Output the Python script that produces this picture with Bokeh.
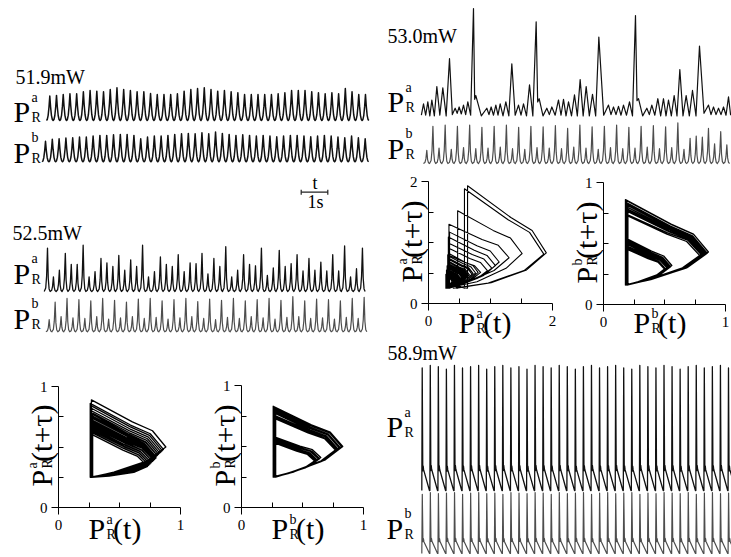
import numpy as np
from bokeh.plotting import figure
from bokeh.models import Range1d, Label, FixedTicker, LinearAxis
from bokeh.layouts import row, column
from bokeh.embed import file_html
from bokeh.resources import INLINE

SERIF = "Liberation Serif"

# ------------------------------------------------------------------ data
PANEL_LABELS = ["51.9mW", "52.5mW", "53.0mW", "58.9mW"]

# 51.9 mW : peak heights (a.u. above trough)
A_A_PEAKS = [0.74, 0.76, 0.79, 0.81, 0.81, 0.87, 0.91, 0.89, 0.87, 0.94, 0.99, 0.94, 0.91, 0.87, 0.87, 0.82,
             0.79, 0.79, 0.79, 0.81, 0.89, 0.94, 0.97, 0.99, 0.94, 0.89, 0.91, 0.87, 0.84, 0.79, 0.79, 0.79,
             0.79, 0.79, 0.81, 0.84, 0.91, 0.91, 0.91, 0.87, 0.84, 0.81, 0.84, 0.81, 0.97, 0.87, 0.79, 0.79]
A_B_PEAKS = [0.62, 0.68, 0.70, 0.72, 0.73, 0.75, 0.75, 0.78, 0.80, 0.80, 0.82, 0.83, 0.83, 0.80, 0.70, 0.75,
             0.78, 0.78, 0.80, 0.83, 0.85, 0.86, 0.85, 0.88, 0.85, 0.90, 0.86, 0.83, 0.80, 0.82, 0.80, 0.78,
             0.80, 0.78, 0.76, 0.78, 0.80, 0.80, 0.78, 0.76, 0.78, 0.80, 0.78, 0.75, 0.73, 0.78, 0.73, 0.70]
A_TROUGH = 0.0
A_A_START, A_A_PERIOD = 1.727, 0.2525
A_B_START, A_B_PERIOD = 1.564, 0.2557

# 52.5 mW
B_A_PEAKS = [0.85, 0.46, 0.55, 0.78, 0.63, 0.63, 0.89, 0.46, 0.53, 0.71, 0.65, 0.60, 0.75, 0.55, 0.69, 0.60,
             0.89, 0.46, 0.53, 0.73, 0.63, 0.60, 0.76, 0.53, 0.65, 0.64, 0.78, 0.50, 0.71, 0.60, 0.87, 0.46,
             0.55, 0.76, 0.63, 0.61, 0.85, 0.48, 0.58, 0.82, 0.60, 0.64, 0.76, 0.54, 0.71, 0.55, 0.66, 0.54,
             0.76, 0.54, 0.88, 0.46, 0.57, 0.85]
B_B_PEAKS = [0.45, 0.74, 0.50, 0.80, 0.48, 0.78, 0.47, 0.76, 0.50, 0.80, 0.46, 0.77, 0.48, 0.74, 0.50, 0.79,
             0.47, 0.80, 0.49, 0.76, 0.46, 0.78, 0.48, 0.80, 0.50, 0.75, 0.47, 0.79, 0.45, 0.77, 0.49, 0.80,
             0.47, 0.76, 0.50, 0.78, 0.48, 0.80, 0.46, 0.77, 0.49, 0.83, 0.50, 0.76, 0.47, 0.79, 0.48, 0.78,
             0.46, 0.76, 0.49, 0.80, 0.47, 0.82]
B_A_TROUGH, B_B_TROUGH = 0.26, 0.25
B_A_START, B_B_START, B_PERIOD = 1.644, 1.708, 0.2234

# 53.0 mW : trace a given as peak times (s), peak values and the trough after each peak
C_A_TIMES = [1.617, 1.779, 1.930, 2.118, 2.343, 2.594, 2.807, 2.957, 3.120, 3.283, 3.496, 3.584, 3.997, 4.160,
             4.336, 4.499, 4.712, 4.937, 5.188, 5.376, 5.602, 5.852, 5.965, 6.253, 6.441, 6.692, 6.880, 7.068,
             7.293, 7.506, 7.732, 7.970, 8.208, 8.571, 8.759, 8.947, 9.135, 9.361, 9.586, 9.699, 10.013,
             10.200, 10.426, 10.639, 10.827, 11.040, 11.253, 11.491, 11.729, 11.992, 12.331, 12.519, 12.707,
             12.895, 13.083]
C_A_PEAKS = [0.45, 0.48, 0.51, 0.72, 0.70, 1.16, 0.38, 0.40, 0.43, 0.48, 1.95, 0.58, 0.38, 0.40, 0.43, 0.45,
             0.48, 1.08, 0.43, 0.45, 0.75, 1.74, 0.53, 0.38, 0.40, 0.51, 0.52, 0.48, 0.59, 0.83, 0.72, 0.60,
             1.50, 0.43, 0.40, 0.41, 0.43, 0.48, 1.84, 0.53, 0.38, 0.43, 0.53, 0.53, 0.51, 0.58, 0.99, 0.58,
             0.66, 1.36, 0.43, 0.40, 0.38, 0.40, 0.56]
C_A_TROUGHS = [0.27, 0.26, 0.26, 0.27, 0.26, 0.28, 0.30, 0.29, 0.28, 0.27, 0.52, 0.26, 0.28, 0.27, 0.27, 0.26,
               0.26, 0.27, 0.27, 0.26, 0.26, 0.48, 0.26, 0.28, 0.27, 0.27, 0.26, 0.26, 0.26, 0.26, 0.26, 0.26,
               0.27, 0.28, 0.28, 0.27, 0.27, 0.26, 0.50, 0.26, 0.28, 0.27, 0.26, 0.26, 0.26, 0.26, 0.26, 0.26,
               0.26, 0.30, 0.28, 0.28, 0.28, 0.27, 0.27]
C_A_FIRST_TROUGH = 0.27
C_B_PEAKS = [0.40, 0.84, 0.44, 0.86, 0.42, 0.84, 0.45, 0.86, 0.43, 0.82, 0.44, 0.84, 0.46, 0.86, 0.43, 0.82,
             0.42, 0.84, 0.45, 0.83, 0.44, 0.85, 0.43, 0.80, 0.46, 0.86, 0.44, 0.83, 0.42, 0.84, 0.45, 0.86,
             0.43, 0.82, 0.44, 0.84, 0.46, 0.85, 0.43, 0.83, 0.45, 0.90, 0.42, 0.62, 0.66, 0.64, 0.80, 0.52,
             0.74, 0.50]
C_B_TROUGH = 0.16
C_B_START, C_B_PERIOD = 1.614, 0.2302

# 58.9 mW
D_A_PEAKS = [0.98, 1.00, 0.99, 0.97, 1.00, 0.98, 0.99, 1.00, 0.97, 0.99, 1.00, 0.98, 0.99, 0.97, 1.00, 0.99,
             0.98, 1.00, 0.99, 0.97, 0.99, 1.00, 0.98, 0.99, 1.00, 0.98, 0.97, 1.00, 0.99, 0.98, 1.00, 0.99,
             0.97, 0.99, 1.00, 0.98, 0.99, 1.00, 0.98]
D_B_PEAKS = [0.97, 1.00, 0.98, 0.99, 1.00, 0.97, 0.99, 1.00, 0.98, 0.99, 0.97, 1.00, 0.99, 0.98, 1.00, 0.99,
             0.97, 1.00, 0.98, 0.99, 1.00, 0.97, 0.99, 1.00, 0.98, 0.99, 1.00, 0.97, 0.99, 0.98, 1.00, 0.99,
             0.98, 1.00, 0.97, 0.99, 1.00, 0.98, 0.99]
D_TROUGH = 0.0
D_START, D_PERIOD = 1.553, 0.303

# pulse profiles (fraction of period, fraction of height)
SHAPE_A_T = [0.0, 0.12, 0.25, 0.38, 0.5, 0.62, 0.75, 0.88]
SHAPE_A_Y = [0.0, 0.04, 0.2, 0.55, 1.0, 0.55, 0.2, 0.04]
SHAPE_B_T = [0.0, 0.25, 0.4, 0.55, 0.68, 0.82]
SHAPE_B_Y = [0.0, 0.08, 0.35, 1.0, 0.3, 0.06]
SHAPE_DA_T = [0.0, 0.05, 0.12, 0.17, 0.22, 0.95]
SHAPE_DA_Y = [0.0, 1.0, 0.16, 0.2, 0.17, 0.0]
SHAPE_DB_T = [0.0, 0.06, 0.14, 0.2, 0.26, 0.95]
SHAPE_DB_Y = [0.0, 1.0, 0.2, 0.25, 0.2, 0.0]

# 1 s scale bar
SCALE_LEN = 1.0

# phase portraits: per loop left-edge x, top, right vertex x / y ; base level
P1_LX = [0.27, 0.28, 0.27, 0.26, 0.28, 0.27, 0.27, 0.28, 0.26, 0.27, 0.28, 0.27, 0.27, 0.26, 0.28, 0.27,
         0.27, 0.28, 0.27, 0.26, 0.27, 0.28, 0.27, 0.27, 0.26, 0.27, 0.28, 0.27, 0.27, 0.26, 0.28, 0.27]
P1_TOP = [0.66, 0.74, 0.62, 0.70, 0.78, 0.64, 0.89, 0.68, 0.72, 0.76, 0.60, 0.84, 0.67, 0.73, 0.65, 0.80,
          0.70, 0.63, 0.75, 0.86, 0.69, 0.77, 0.71, 0.82, 0.66, 0.72, 0.64, 0.74, 0.68, 0.76, 0.62, 0.70]
P1_RX = [0.76, 0.80, 0.74, 0.78, 0.82, 0.75, 0.88, 0.77, 0.79, 0.81, 0.73, 0.85, 0.77, 0.80, 0.76, 0.83,
         0.78, 0.75, 0.80, 0.86, 0.78, 0.81, 0.79, 0.84, 0.76, 0.79, 0.75, 0.80, 0.77, 0.81, 0.74, 0.78]
P1_RY = [0.37, 0.42, 0.35, 0.40, 0.44, 0.36, 0.50, 0.38, 0.41, 0.43, 0.34, 0.47, 0.38, 0.41, 0.37, 0.45,
         0.40, 0.36, 0.42, 0.48, 0.39, 0.43, 0.40, 0.46, 0.37, 0.41, 0.36, 0.42, 0.38, 0.43, 0.35, 0.40]
P1_BASE = 0.25

P2_LX = [0.27, 0.28, 0.27, 0.27, 0.28, 0.27, 0.26, 0.27, 0.27, 0.28, 0.27, 0.27, 0.28, 0.26, 0.27, 0.27,
         0.28, 0.27, 0.27, 0.26, 0.27, 0.28, 0.27, 0.27, 0.26, 0.27, 0.28, 0.27]
P2_TOP = [0.55, 0.77, 0.53, 0.80, 0.56, 0.73, 0.57, 0.82, 0.54, 0.78, 0.58, 0.75, 0.55, 0.83, 0.56, 0.79,
          0.57, 0.81, 0.53, 0.76, 0.55, 0.79, 0.58, 0.81, 0.54, 0.74, 0.56, 0.80]
P2_RX = [0.62, 0.79, 0.60, 0.81, 0.63, 0.77, 0.64, 0.82, 0.61, 0.80, 0.65, 0.78, 0.62, 0.83, 0.63, 0.80,
         0.64, 0.82, 0.60, 0.79, 0.62, 0.80, 0.65, 0.82, 0.61, 0.78, 0.63, 0.81]
P2_RY = [0.39, 0.48, 0.38, 0.49, 0.40, 0.47, 0.40, 0.50, 0.39, 0.49, 0.41, 0.48, 0.39, 0.50, 0.40, 0.49,
         0.40, 0.50, 0.38, 0.48, 0.39, 0.49, 0.41, 0.50, 0.38, 0.47, 0.40, 0.49]
P2_BASE = 0.25

P3_LX = [0.30, 0.29, 0.30, 0.31, 0.33, 0.34, 0.28, 0.28, 0.29, 0.30, 0.63, 0.45, 0.28, 0.29, 0.29, 0.30,
         0.32, 0.30, 0.31, 0.58, 0.40, 0.29, 0.30, 0.31, 0.30, 0.32, 0.33, 0.31, 0.47, 0.29, 0.29, 0.30,
         0.32, 0.31, 0.32, 0.33, 0.30, 0.29, 0.31, 0.30, 0.28, 0.32, 0.30, 0.29, 0.31, 0.30, 0.33]
P3_TOP = [0.52, 0.55, 0.60, 0.75, 0.72, 1.17, 0.45, 0.48, 0.50, 0.55, 1.93, 0.62, 0.45, 0.50, 0.55, 0.60,
          1.09, 0.50, 0.80, 1.88, 0.58, 0.45, 0.62, 0.65, 0.58, 0.91, 0.82, 0.70, 1.52, 0.50, 0.48, 0.55,
          0.99, 0.66, 0.78, 1.30, 0.52, 0.47, 0.58, 0.53, 0.44, 0.68, 0.56, 0.49, 0.63, 0.51, 0.74]
P3_RX = [0.45, 0.50, 0.56, 0.72, 0.70, 1.14, 0.38, 0.42, 0.46, 0.50, 1.90, 0.60, 0.40, 0.45, 0.49, 0.55,
         1.08, 0.46, 0.84, 1.86, 0.56, 0.40, 0.58, 0.60, 0.55, 0.95, 0.80, 0.66, 1.51, 0.45, 0.43, 0.50,
         1.02, 0.62, 0.76, 1.30, 0.47, 0.41, 0.53, 0.48, 0.38, 0.64, 0.51, 0.44, 0.59, 0.46, 0.70]
P3_RY = [0.40, 0.42, 0.44, 0.49, 0.48, 0.68, 0.37, 0.38, 0.40, 0.42, 0.83, 0.45, 0.37, 0.39, 0.41, 0.43,
         0.62, 0.40, 0.51, 0.81, 0.44, 0.37, 0.44, 0.46, 0.43, 0.54, 0.51, 0.47, 0.82, 0.40, 0.39, 0.42,
         0.58, 0.46, 0.50, 0.75, 0.40, 0.38, 0.43, 0.41, 0.36, 0.46, 0.42, 0.39, 0.45, 0.40, 0.48]
P3_BASE = 0.25

P4_LX = [0.19, 0.19, 0.20, 0.18, 0.19, 0.20, 0.19, 0.18, 0.19, 0.19, 0.20, 0.19, 0.18, 0.19, 0.20, 0.19,
         0.19, 0.18, 0.20, 0.19, 0.19, 0.19, 0.18, 0.20, 0.19, 0.19, 0.19, 0.18, 0.20, 0.19]
P4_TOP = [0.50, 0.80, 0.46, 0.84, 0.52, 0.76, 0.48, 0.86, 0.54, 0.78, 0.47, 0.82, 0.51, 0.74, 0.49, 0.85,
          0.53, 0.79, 0.45, 0.83, 0.50, 0.77, 0.52, 0.81, 0.48, 0.73, 0.54, 0.84, 0.47, 0.80]
P4_RX = [0.53, 0.83, 0.51, 0.85, 0.54, 0.81, 0.52, 0.86, 0.56, 0.82, 0.51, 0.84, 0.53, 0.80, 0.52, 0.86,
         0.55, 0.83, 0.50, 0.85, 0.53, 0.82, 0.54, 0.84, 0.52, 0.79, 0.56, 0.85, 0.51, 0.83]
P4_RY = [0.30, 0.42, 0.29, 0.42, 0.31, 0.41, 0.30, 0.43, 0.32, 0.42, 0.29, 0.42, 0.31, 0.41, 0.30, 0.43,
         0.31, 0.42, 0.29, 0.42, 0.30, 0.41, 0.31, 0.42, 0.30, 0.40, 0.32, 0.42, 0.29, 0.42]
P4_BASE = 0.16

# loop outline read from the portraits: weights of (top-left, right vertex, bottom-left)
LOOP_W = [(0, 0, 1), (1, 0, 0), (0.5, 0.55, -0.05), (0.28, 0.82, -0.10), (0, 1, 0),
          (-0.08, 0.75, 0.33), (-0.05, 0.30, 0.75)]

# ------------------------------------------------------------------ helpers
SEC_PX = 26.6           # pixels per second on every time axis
LEFT_W, RIGHT_W = 380, 351
BLACK, GREY = "#111111", "#4d4d4d"
BASE_SHIFT = 0.30       # compensation for label baseline placement (fraction of font size)


def train(peaks, start, period, trough, shape_t, shape_y):
    xs, ys = [], []
    for k, pk in enumerate(peaks):
        for ft, fy in zip(shape_t, shape_y):
            xs.append(start + (k + ft) * period)
            ys.append(trough + fy * (pk - trough))
    xs.append(start + len(peaks) * period)
    ys.append(trough)
    return xs, ys


def zigzag(times, peaks, troughs, first):
    xs, ys = [times[0] - 0.08], [first]
    for i, (t, pk, tr) in enumerate(zip(times, peaks, troughs)):
        xs.append(t)
        ys.append(pk)
        nt = times[i + 1] if i + 1 < len(times) else t + 0.16
        xs.append(0.5 * (t + nt))
        ys.append(tr)
    return xs, ys


def loops(lx, top, rx, ry, base):
    xs, ys = [], []
    for L, T, X, R in zip(lx, top, rx, ry):
        for wt, wv, wb in LOOP_W:
            xs.append(wt * L + wv * X + wb * L)
            ys.append(wt * T + wv * R + wb * base)
    xs.append(lx[-1])
    ys.append(base)
    return xs, ys


def trace_range(val0, px0, unit, top, h):
    return Range1d(val0 + (px0 - top - h) / unit, val0 + (px0 - top) / unit)


def add_text(p, x, y, text, size, angle=0.0, align="left"):
    if angle:
        x = x - BASE_SHIFT * size
    else:
        y = y - BASE_SHIFT * size
    p.add_layout(Label(x=x, y=y, x_range_name="px", y_range_name="px", text=text,
                       text_font=SERIF, text_font_size=f"{size}px", text_color="black",
                       angle=angle, text_align=align, text_baseline="alphabetic"))


def pr_label(p, x, y, sup, size=30, tail="", sup_up=0.64):
    small = round(size * 0.47)
    add_text(p, x, y, "P", size)
    add_text(p, x + 0.6 * size, y - sup_up * size, sup, small)
    add_text(p, x + 0.6 * size, y + 0.05 * size, "R", small)
    if tail:
        add_text(p, x + 0.82 * size, y, tail, size)


def pr_label_rot(p, x, y, sup, size=30, tail="", sup_up=0.46):
    small = round(size * 0.47)
    a = np.pi / 2
    add_text(p, x, y, "P", size, a)
    add_text(p, x - sup_up * size, y - 0.6 * size, sup, small, a)
    add_text(p, x + 0.05 * size, y - 0.6 * size, "R", small, a)
    if tail:
        add_text(p, x, y - 0.82 * size, tail, size, a)


def base_fig(page_left, page_top, w, h, xr, yr, extra_y=None):
    ey = {"px": Range1d(page_top + h, page_top)}
    if extra_y:
        ey.update(extra_y)
    p = figure(width=w, height=h, x_range=xr, y_range=yr,
               x_axis_location=None, y_axis_location=None,
               output_backend="svg", toolbar_location=None, min_border=0,
               outline_line_color=None, background_fill_color="white",
               border_fill_color="white")
    p.grid.visible = False
    p.extra_x_ranges = {"px": Range1d(page_left, page_left + w)}
    p.extra_y_ranges = ey
    return p


def portrait_fig(page_left, page_top, w, h, ox, oy, xe, ye, vmax, minor):
    ux = (xe - ox) / vmax
    uy = (oy - ye) / vmax
    xr = Range1d((page_left - ox) / ux, (page_left + w - ox) / ux)
    yr = Range1d((oy - page_top - h) / uy, (oy - page_top) / uy)
    p = base_fig(page_left, page_top, w, h, xr, yr)
    for side in ("below", "left"):
        ax = LinearAxis(fixed_location=0, bounds=(0, vmax),
                        ticker=FixedTicker(ticks=[0, vmax], minor_ticks=minor),
                        major_tick_in=0, major_tick_out=7, minor_tick_in=5, minor_tick_out=0,
                        major_label_text_font=SERIF, major_label_text_font_size="15px",
                        major_label_text_color="black", axis_line_color="black",
                        major_tick_line_color="black", minor_tick_line_color="black",
                        major_label_standoff=5 if side == "below" else 4)
        p.add_layout(ax, side)
    return p


def portrait_labels(p, ox, oy, sup, dy=30):
    pr_label(p, ox + 30, oy + dy, sup, tail="(t)", sup_up=0.45)
    pr_label_rot(p, ox - 8, oy - 21, sup, tail="(t+τ)", sup_up=0.46)


x_left = Range1d(0, LEFT_W / SEC_PX)
x_right = Range1d(0, RIGHT_W / SEC_PX)

# ---------------- 51.9 mW
pA = base_fig(0, 0, LEFT_W, 168, x_left, trace_range(A_TROUGH, 120, 33, 0, 168),
              {"b": trace_range(A_TROUGH, 161.3, 33, 0, 168)})
x, y = train(A_A_PEAKS, A_A_START, A_A_PERIOD, A_TROUGH, SHAPE_A_T, SHAPE_A_Y)
pA.line(x, y, line_color=BLACK, line_width=1.5, line_join="round")
x, y = train(A_B_PEAKS, A_B_START, A_B_PERIOD, A_TROUGH, SHAPE_A_T, SHAPE_A_Y)
pA.line(x, y, y_range_name="b", line_color=BLACK, line_width=1.5, line_join="round")
add_text(pA, 15, 82, PANEL_LABELS[0], 20)
pr_label(pA, 13, 120, "a")
pr_label(pA, 13, 160.5, "b")

# ---------------- scale bar
pS = base_fig(0, 168, LEFT_W, 44, x_left, Range1d(212, 168))
t0 = 300.7 / SEC_PX
pS.segment(x0=[t0, t0, t0 + SCALE_LEN], y0=[191.7, 189.3, 189.3],
           x1=[t0 + SCALE_LEN, t0, t0 + SCALE_LEN], y1=[191.7, 194.2, 194.2],
           line_color="#222222", line_width=1.2)
add_text(pS, 314.5, 187.5, "t", 18, align="center")
add_text(pS, 315, 206.5, "1s", 18, align="center")

# ---------------- 52.5 mW
pB = base_fig(0, 212, LEFT_W, 128, x_left, trace_range(B_A_TROUGH, 291, 73.5, 212, 128),
              {"b": trace_range(B_B_TROUGH, 331.3, 60.6, 212, 128)})
x, y = train(B_A_PEAKS, B_A_START, B_PERIOD, B_A_TROUGH, SHAPE_B_T, SHAPE_B_Y)
pB.line(x, y, line_color=BLACK, line_width=1.3, line_join="round")
x, y = train(B_B_PEAKS, B_B_START, B_PERIOD, B_B_TROUGH, SHAPE_B_T, SHAPE_B_Y)
pB.line(x, y, y_range_name="b", line_color=GREY, line_width=1.2, line_join="round")
add_text(pB, 12, 238, PANEL_LABELS[1], 20)
pr_label(pB, 13, 281.5, "a")
pr_label(pB, 13, 326.5, "b")

# ---------------- portraits 52.5 mW
p1 = portrait_fig(0, 340, 185, 217, 58, 507, 180, 386, 1, [0.25, 0.5, 0.75])
x, y = loops(P1_LX, P1_TOP, P1_RX, P1_RY, P1_BASE)
p1.line(x, y, line_color="black", line_width=1.3, line_join="round")
portrait_labels(p1, 58, 507, "a")

p2 = portrait_fig(185, 340, 195, 217, 241, 507, 363, 385, 1, [0.25, 0.5, 0.75])
x, y = loops(P2_LX, P2_TOP, P2_RX, P2_RY, P2_BASE)
p2.line(x, y, line_color="black", line_width=1.3, line_join="round")
portrait_labels(p2, 241, 507, "b")

# ---------------- 53.0 mW
pC = base_fig(380, 0, RIGHT_W, 170, x_right, trace_range(0.25, 116, 63.5, 0, 170),
              {"b": trace_range(C_B_TROUGH, 163, 54.8, 0, 170)})
x, y = zigzag(C_A_TIMES, C_A_PEAKS, C_A_TROUGHS, C_A_FIRST_TROUGH)
pC.line(x, y, line_color=BLACK, line_width=1.2, line_join="round")
x, y = train(C_B_PEAKS, C_B_START, C_B_PERIOD, C_B_TROUGH, SHAPE_B_T, SHAPE_B_Y)
pC.line(x, y, y_range_name="b", line_color=GREY, line_width=1.2, line_join="round")
add_text(pC, 387, 41.5, PANEL_LABELS[2], 20)
pr_label(pC, 387, 110, "a")
pr_label(pC, 387, 156.5, "b")

# ---------------- portraits 53.0 mW
p3 = portrait_fig(380, 170, 185, 170, 428, 303, 552, 181, 2, [0.5, 1.0, 1.5])
x, y = loops(P3_LX, P3_TOP, P3_RX, P3_RY, P3_BASE)
p3.line(x, y, line_color="black", line_width=1.1, line_join="round")
portrait_labels(p3, 428, 303, "a", dy=28)

p4 = portrait_fig(565, 170, 166, 170, 603, 304, 725, 182, 1, [0.25, 0.5, 0.75])
x, y = loops(P4_LX, P4_TOP, P4_RX, P4_RY, P4_BASE)
p4.line(x, y, line_color="black", line_width=1.3, line_join="round")
portrait_labels(p4, 603, 304, "b", dy=27)

# ---------------- 58.9 mW
pD = base_fig(380, 340, RIGHT_W, 217, x_right, trace_range(D_TROUGH, 490, 125, 340, 217),
              {"b": trace_range(D_TROUGH, 553, 61, 340, 217)})
x, y = train(D_A_PEAKS, D_START, D_PERIOD, D_TROUGH, SHAPE_DA_T, SHAPE_DA_Y)
pD.line(x, y, line_color=BLACK, line_width=1.3, line_join="round")
x, y = train(D_B_PEAKS, D_START, D_PERIOD, D_TROUGH, SHAPE_DB_T, SHAPE_DB_Y)
pD.line(x, y, y_range_name="b", line_color=GREY, line_width=1.2, line_join="round")
add_text(pD, 387, 358, PANEL_LABELS[3], 20)
pr_label(pD, 386, 435, "a")
pr_label(pD, 386, 536.5, "b")

layout = row(column(pA, pS, pB, row(p1, p2)),
             column(pC, row(p3, p4), pD))

open("out.html", "w").write(file_html(layout, INLINE))
